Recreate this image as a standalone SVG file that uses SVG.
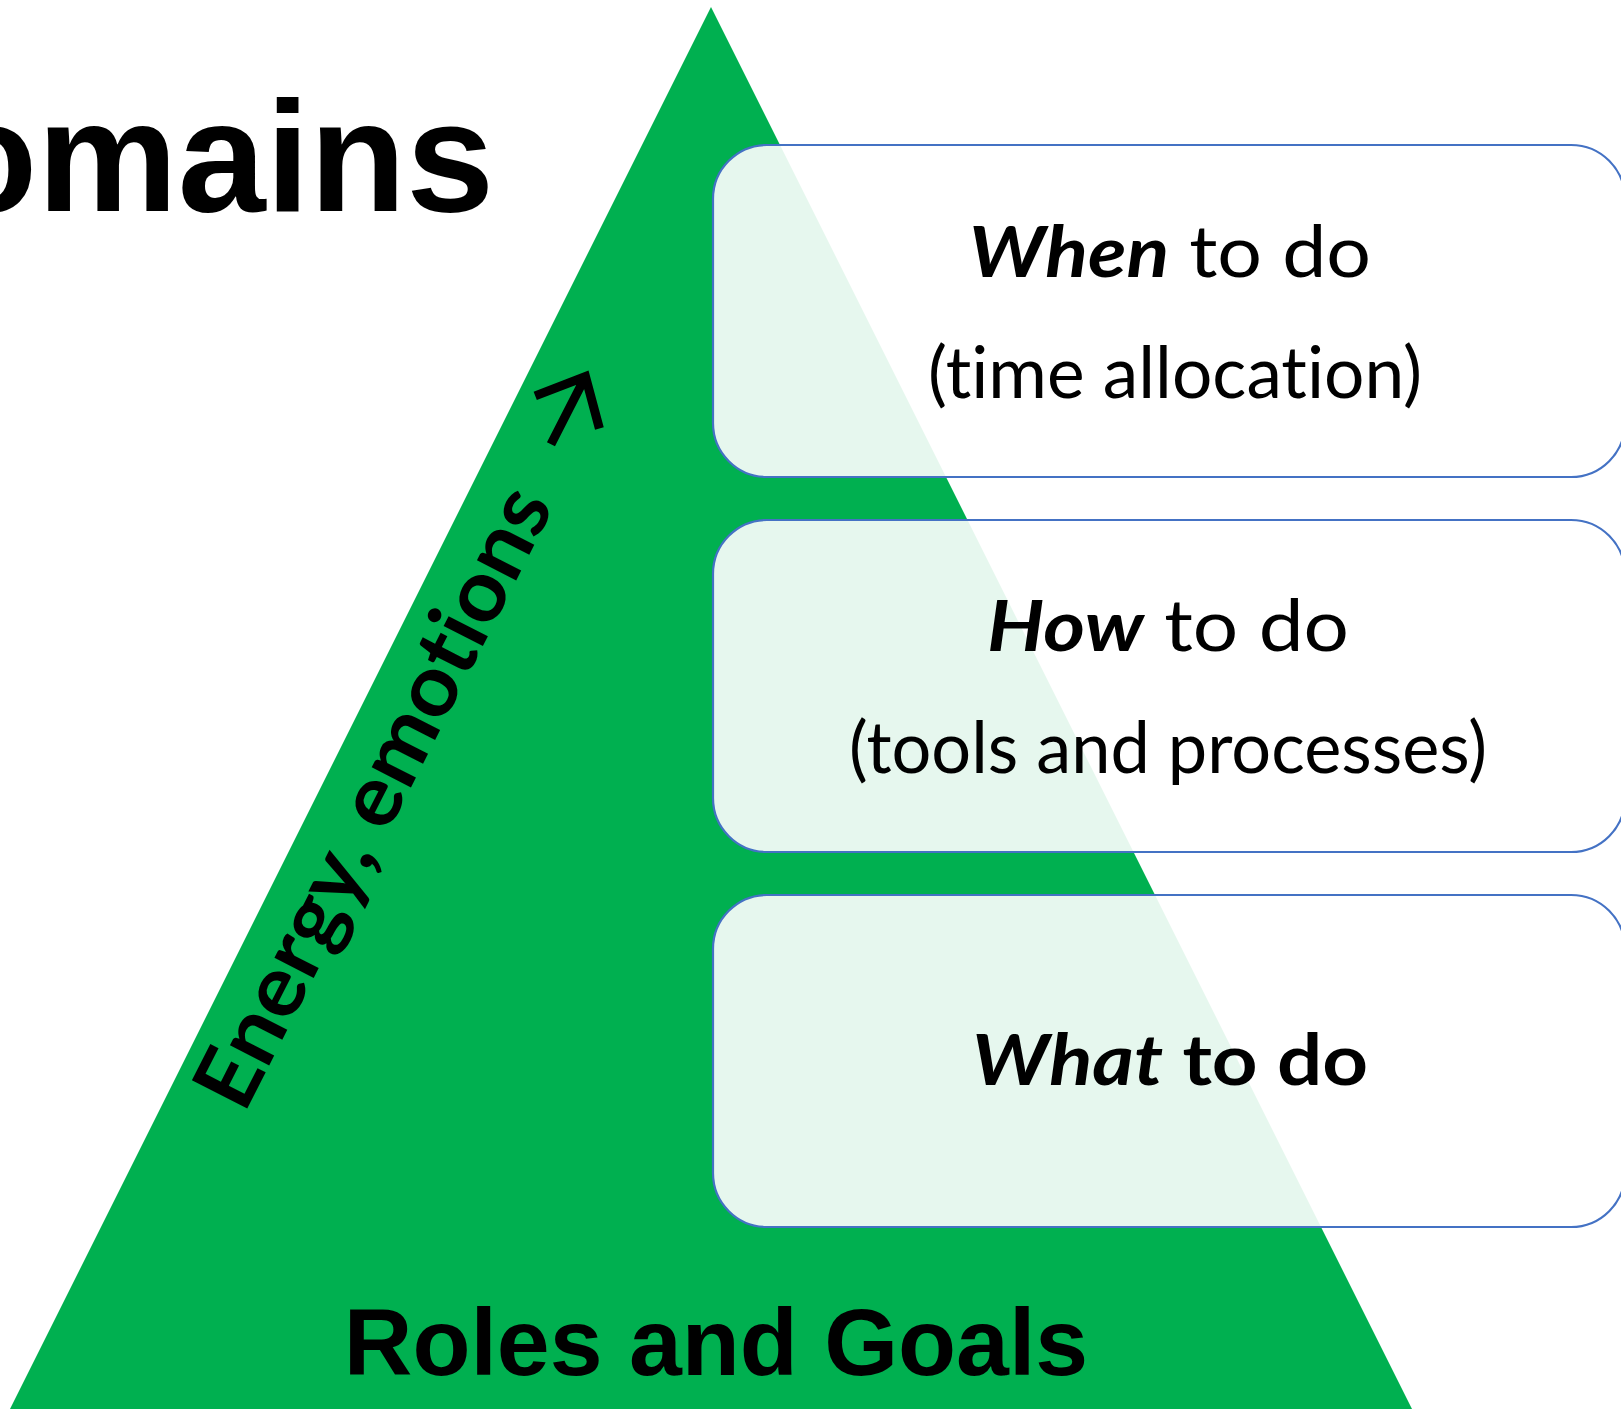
<svg xmlns="http://www.w3.org/2000/svg" width="1621" height="1411" viewBox="0 0 1621 1411">
  <style>
    text { font-variant-ligatures: none; }
    .box { fill: #FFFFFF; fill-opacity: 0.9; stroke: #4472C4; stroke-width: 2.2; }
    .bt { font-family: "Lato", "Open Sans", sans-serif; font-size: 71px; fill: #000000; text-anchor: middle; }
    .em { font-weight: 700; font-style: italic; }
    .b { font-weight: 700; }
    .head { font-family: "Liberation Sans", Arial, sans-serif; font-weight: 700; fill: #000000; }
    .side { font-family: "Lato", "Open Sans", sans-serif; font-size: 86px; font-weight: 700; fill: #000000; }
  </style>
  <rect x="0" y="0" width="1621" height="1411" fill="#FFFFFF"/>

  <g id="pyramid">
    <polygon points="711,7 10,1409 1412,1409" fill="#00B050"/>
  </g>

  <g id="title">
    <text class="head" x="494" y="211" font-size="158" text-anchor="end">omains</text>
  </g>

  <g id="label-roles">
    <text class="head" x="716" y="1375" font-size="95" text-anchor="middle">Roles and Goals</text>
  </g>

  <g id="label-energy">
    <text class="side" transform="translate(244,1115) rotate(-63)" x="0" y="0" textLength="684" lengthAdjust="spacingAndGlyphs">Energy, emotions</text>
  </g>

  <g id="connectors">
    <path d="M737,-31 L812,-31 M773,-67 L813,-31 L773,5" transform="translate(244,1115) rotate(-63)" fill="none" stroke="#000000" stroke-width="9" stroke-linejoin="miter" stroke-miterlimit="10"/>
  </g>

  <g id="box-when">
    <rect class="box" x="713" y="145" width="912" height="332" rx="54" ry="54"/>
    <text class="bt" x="1170" y="277" textLength="402" lengthAdjust="spacingAndGlyphs"><tspan class="em">When</tspan> to do</text>
    <text class="bt" x="1175" y="398" textLength="494" lengthAdjust="spacingAndGlyphs">(time allocation)</text>
  </g>

  <g id="box-how">
    <rect class="box" x="713" y="520" width="912" height="332" rx="54" ry="54"/>
    <text class="bt" x="1168" y="651" textLength="362" lengthAdjust="spacingAndGlyphs"><tspan class="em">How</tspan> to do</text>
    <text class="bt" x="1168" y="773" textLength="638" lengthAdjust="spacingAndGlyphs">(tools and processes)</text>
  </g>

  <g id="box-what">
    <rect class="box" x="713" y="895" width="912" height="332" rx="54" ry="54"/>
    <text class="bt b" x="1170" y="1085" textLength="396" lengthAdjust="spacingAndGlyphs"><tspan class="em">What</tspan> to do</text>
  </g>
</svg>
